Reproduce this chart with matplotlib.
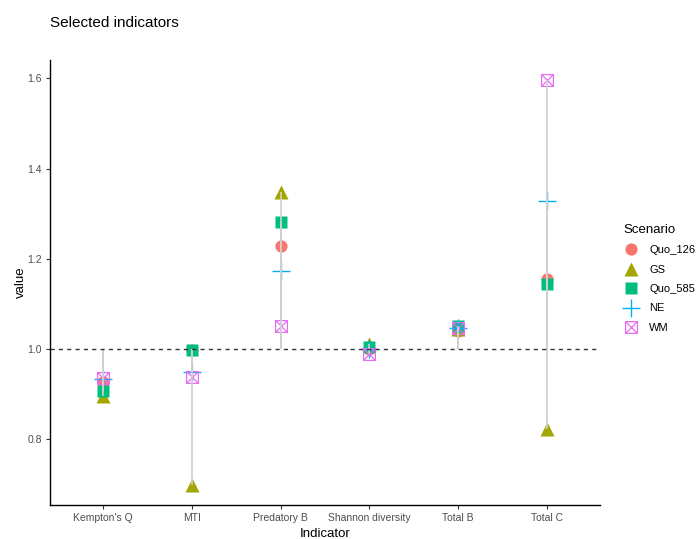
import matplotlib.pyplot as plt
import numpy as np
from matplotlib.path import Path

plt.rcParams['font.family'] = ['Liberation Sans', 'DejaVu Sans']

indicators = ["Kempton's Q", 'MTI', 'Predatory B', 'Shannon diversity', 'Total B', 'Total C']
scenarios = ['Quo_126', 'GS', 'Quo_585', 'NE', 'WM']

quo_126 = [0.927, 0.998, 1.229, 1.000, 1.040, 1.155]
gs = [0.896, 0.699, 1.347, 1.010, 1.045, 0.823]
quo_585 = [0.907, 0.998, 1.282, 1.004, 1.050, 1.144]
ne = [0.934, 0.950, 1.173, 0.999, 1.046, 1.329]
wm = [0.936, 0.938, 1.051, 0.990, 1.047, 1.596]

values = [quo_126, gs, quo_585, ne, wm]
colors = ['#F8766D', '#A3A500', '#00BF7D', '#00B0F6', '#E76BF3']

# square with a cross inside (ggplot shape 7)
box_x = Path([(-1, -1), (1, -1), (1, 1), (-1, 1), (-1, -1), (-1, -1), (1, 1), (-1, 1), (1, -1)],
             [Path.MOVETO, Path.LINETO, Path.LINETO, Path.LINETO, Path.CLOSEPOLY,
              Path.MOVETO, Path.LINETO, Path.MOVETO, Path.LINETO])

styles = [
    dict(marker='o', ms=8.8, mec='none'),
    dict(marker='^', ms=10, mec='none'),
    dict(marker='s', ms=8.8, mec='none'),
    dict(marker='+', ms=13, mew=1.0),
    dict(marker=box_x, ms=8.5, mfc='none', mew=0.9),
]

fig = plt.figure(figsize=(6.98, 5.39), dpi=100)
ax = fig.add_axes([0.0716, 0.063, 0.788, 0.826])

x = np.arange(1, len(indicators) + 1)
for name, vals, col, st in zip(scenarios, values, colors, styles):
    kw = dict(st)
    if 'mec' not in kw:
        kw['mec'] = col
    ax.plot(x, vals, linestyle='none', color=col, label=name, zorder=2, **kw)

# segments from the reference level to every scenario value
for vals in values:
    ax.vlines(x, 1.0, vals, color='#cfcfcf', lw=1.2, zorder=3)

ax.axhline(1.0, color='#333333', lw=1.0, ls=(0, (3, 3)), zorder=4)

allv = np.concatenate(values)
lo, hi = allv.min(), allv.max()
pad = (hi - lo) * 0.05
ax.set_ylim(lo - pad, hi + pad)
ax.set_xlim(0.4, len(indicators) + 0.6)
ax.set_xticks(x)
ax.set_xticklabels(indicators)
ax.set_yticks([0.8, 1.0, 1.2, 1.4, 1.6])
ax.set_yticklabels(['0.8', '1.0', '1.2', '1.4', '1.6'])

for s in ['top', 'right']:
    ax.spines[s].set_visible(False)
for s in ['left', 'bottom']:
    ax.spines[s].set_linewidth(1.0)
    ax.spines[s].set_color('black')
ax.tick_params(length=3, width=0.8, color='#333333', labelcolor='#4d4d4d', labelsize=7.5, pad=3)

ax.set_xlabel('Indicator', fontsize=9.5, labelpad=3)
ax.set_ylabel('value', fontsize=9.5, labelpad=0)
fig.text(50 / 698, 1 - 23 / 539, 'Selected indicators', fontsize=11, va='center', ha='left')

leg = ax.legend(title='Scenario', loc='upper left', bbox_to_anchor=(1.035, 0.642),
                frameon=False, fontsize=8, title_fontsize=9.5, handlelength=1.3,
                handletextpad=1.0, labelspacing=0.85, borderaxespad=0)
leg._legend_box.align = 'left'

fig.savefig('out.png', dpi=100)
